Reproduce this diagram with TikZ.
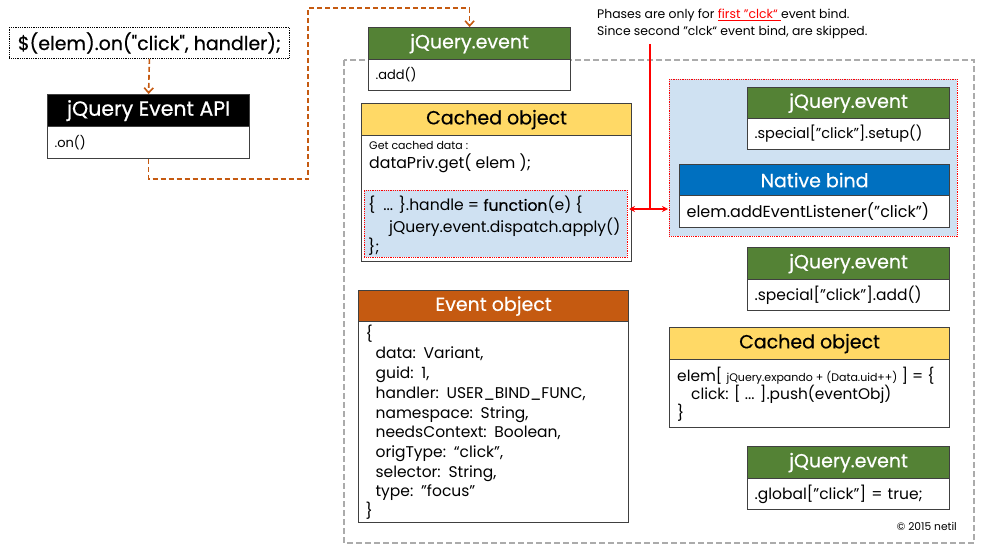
\documentclass[tikz,border=0pt]{standalone}
\usepackage{fontspec}
\setmainfont{Poppins}
\newfontfamily\hfont{Poppins}[FakeBold=0.5]
\usetikzlibrary{arrows.meta}
\definecolor{jgreen}{HTML}{548235}
\definecolor{jorange}{HTML}{C55A11}
\definecolor{jyellow}{HTML}{FFD966}
\definecolor{jblue}{HTML}{0070C0}
\definecolor{lblue}{HTML}{CFE1F2}
\definecolor{edge}{HTML}{404040}
\definecolor{ggray}{HTML}{ABABAB}
\newcommand\fs[1]{\fontsize{#1}{#1}\selectfont}
\begin{document}
\begin{tikzpicture}[x=1pt,y=-1pt,
  hdr/.style={draw=edge, line width=1.2pt, anchor=north west, inner sep=0pt, font=\hfont\fs{19}, text=white},
  bdy/.style={draw=edge, line width=1.2pt, fill=white, anchor=north west, inner xsep=7pt, inner ysep=2pt, align=left, font=\fs{14.5}},
  txt/.style={anchor=west, inner sep=0pt},
  oarrow/.style={draw=jorange, line width=1.6pt, dash pattern=on 5pt off 3pt, -{Straight Barb[length=5pt,width=9pt]}},
  rdot/.style={draw=red, line width=0.8pt, densely dotted},
]
\useasboundingbox (0,0) rectangle (985,551);
\fill[white] (0,0) rectangle (985,551);

% outer dashed region
\draw[ggray, line width=1.5pt, dash pattern=on 6pt off 3pt] (344,60) rectangle (974,543);

% code box
\node[draw=black, densely dotted, line width=0.8pt, anchor=north west, minimum width=280pt, minimum height=31pt, inner sep=0pt, font=\hfont\fs{19}] (code) at (9,27) {\$(elem).on("click", handler);};

% jQuery Event API
\node[hdr, fill=black, minimum width=202pt, minimum height=32pt, font=\hfont\fs{20.5}] (apiH) at (47,94) {jQuery Event API};
\node[bdy, text width=188pt, minimum height=32pt, font=\fs{13}] (apiB) at (47,126) {.on()};

% jQuery.event (add)
\node[hdr, fill=jgreen, minimum width=202pt, minimum height=32pt] (ev1H) at (368,27) {jQuery.event};
\node[bdy, text width=188pt, minimum height=31pt, font=\fs{13}] (ev1B) at (368,59) {.add()};

% Cached object (left)
\node[hdr, fill=jyellow, text=black, minimum width=270pt, minimum height=32pt] (co1H) at (361,103) {Cached object};
\node[bdy, minimum width=270pt, minimum height=126pt, inner sep=0pt] (co1B) at (361,135) {};
\node[txt, font=\fs{11}] (gcd) at (369,145) {Get cached data :};
\node[txt, font=\fs{15.8}] (dpg) at (369,163) {dataPriv.get( elem );};
\node[rdot, fill=lblue, anchor=north west, minimum width=263pt, minimum height=67pt, inner sep=0pt] (hnd) at (364,190) {};
\node[txt, font=\fs{15.6}] (h1) at (368,205) {\{\hspace{8pt}... \}.handle = {\hfont function}(e) \{};
\node[txt, font=\fs{15.6}] (h2) at (389,227) {jQuery.event.dispatch.apply()};
\node[txt, font=\fs{15.6}] (h3) at (368,247) {\};};

% right blue region
\node[rdot, fill=lblue, anchor=north west, minimum width=288pt, minimum height=157pt, inner sep=0pt] (reg) at (669,79) {};

% jQuery.event setup
\node[hdr, fill=jgreen, minimum width=202pt, minimum height=31pt] (ev2H) at (747,87) {jQuery.event};
\node[bdy, text width=188pt, minimum height=31pt] (ev2B) at (747,118) {.special["click"].setup()};

% Native bind
\node[hdr, fill=jblue, minimum width=270pt, minimum height=31pt] (nbH) at (679,164) {Native bind};
\node[bdy, text width=256pt, minimum height=32pt, font=\fs{16}] (nbB) at (679,195) {elem.addEventListener("click")};

% jQuery.event add
\node[hdr, fill=jgreen, minimum width=202pt, minimum height=32pt] (ev3H) at (747,247) {jQuery.event};
\node[bdy, text width=188pt, minimum height=31pt, font=\fs{15.5}] (ev3B) at (747,279) {.special["click"].add()};

% Cached object (right)
\node[hdr, fill=jyellow, text=black, minimum width=280pt, minimum height=32pt] (co2H) at (669,327) {Cached object};
\node[bdy, minimum width=280pt, minimum height=68pt, inner sep=0pt] (co2B) at (669,359) {};
\node[txt, font=\fs{15.4}] (c1) at (677,376) {elem[ {\fs{11}jQuery.expando + (Data.uid++)} ] = \{};
\node[txt, font=\fs{15.4}] (c2) at (691,394) {click: [ ... ].push(eventObj)};
\node[txt, font=\fs{15.4}] (c3) at (677,413) {\}};

% jQuery.event global
\node[hdr, fill=jgreen, minimum width=202pt, minimum height=32pt] (ev4H) at (747,446) {jQuery.event};
\node[bdy, text width=188pt, minimum height=31pt, font=\fs{15.5}] (ev4B) at (747,478) {.global["click"] = true;};

% Event object
\node[hdr, fill=jorange, minimum width=270pt, minimum height=31pt] (eoH) at (358,290) {Event object};
\node[bdy, text width=256pt, minimum height=201pt, font={\fontsize{15.5}{19.7}\selectfont\lineskiplimit=-20pt}, inner ysep=0pt] (eoB) at (358,321) {%
\{\\
\hspace*{10pt}data: Variant,\\
\hspace*{10pt}guid: 1,\\
\hspace*{10pt}handler: USER\_BIND\_FUNC,\\
\hspace*{10pt}namespace: String,\\
\hspace*{10pt}needsContext: Boolean,\\
\hspace*{10pt}origType: “click",\\
\hspace*{10pt}selector: String,\\
\hspace*{10pt}type: "focus"\\
\}};

% copyright
\node[anchor=east, inner sep=0pt, font=\fs{10.7}] (copy) at (957,526) {© 2015 netil};

% annotation
\node[anchor=north west, inner sep=0pt, align=left, font=\fs{12.4}] (note) at (597,9) {Phases are only for \textcolor{red}{\underline{first "clck“ }}event bind.\\[3pt]Since second "clck“ event bind, are skipped.};

% connectors
\draw[oarrow] (code.south) -- (apiH.north);
\coordinate (t1) at (308,8);
\draw[oarrow] (apiB.south) -- ++(0,20) -| (t1) -| (ev1H.north);

\coordinate (rl) at (629,209);
\coordinate (rr) at (668,209);
\coordinate (rj) at (650,209);
\coordinate (rt) at (650,44);
\draw[red, line width=1.5pt, {Stealth[length=6pt,width=6pt]}-{Stealth[length=6pt,width=6pt]}] (rl) -- (rr);
\draw[red, line width=1.5pt] (rt) -- (rj);
\end{tikzpicture}
\end{document}
